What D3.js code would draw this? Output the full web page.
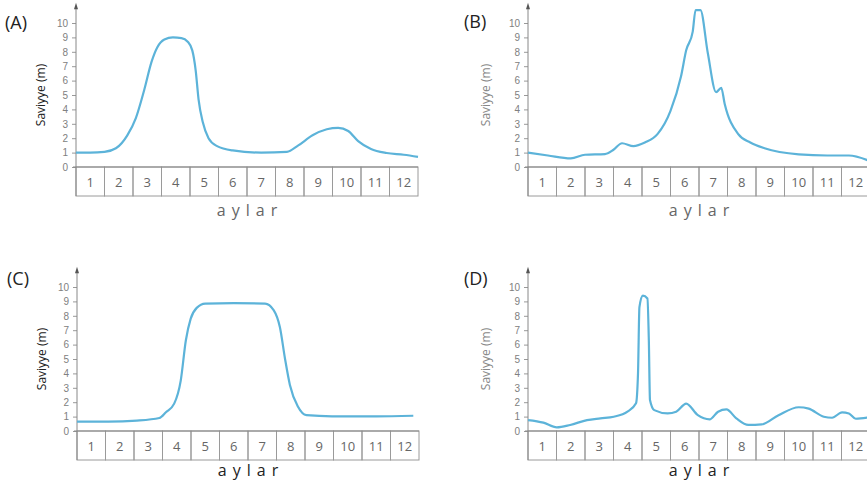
<!DOCTYPE html>
<html>
<head>
<meta charset="utf-8">
<script src="https://cdn.jsdelivr.net/npm/d3@7.9.0/dist/d3.min.js"></script>
<style>
  body { margin: 0; background: #fff; }
  svg { display: block; font-family: "Open Sans", sans-serif; }
</style>
</head>
<body>
<svg id="chart" width="867" height="483"></svg>
<script>
// months along the bottom and the level ticks
const months = [1, 2, 3, 4, 5, 6, 7, 8, 9, 10, 11, 12];
const levelTicks = [0, 1, 2, 3, 4, 5, 6, 7, 8, 9, 10];

// water level (m) against month position
const seriesA = [[0.5,1.0],[1.0,1.0],[1.5,1.05],[1.9,1.3],[2.3,2.2],[2.6,3.4],[2.9,5.4],[3.15,7.3],[3.35,8.3],[3.6,8.85],[3.9,9.0],[4.2,8.95],[4.42,8.7],[4.58,8.1],[4.7,6.7],[4.8,4.7],[4.95,3.1],[5.15,2.0],[5.45,1.45],[6.0,1.15],[7.0,1.0],[7.9,1.05],[8.3,1.5],[8.8,2.2],[9.3,2.62],[9.7,2.72],[10.05,2.5],[10.4,1.8],[10.85,1.25],[11.4,0.97],[12.0,0.85],[12.5,0.7]];
const seriesB = [[0.5,1.0],[1.2,0.8],[2.0,0.6],[2.5,0.85],[3.2,0.9],[3.5,1.2],[3.8,1.65],[4.2,1.45],[4.6,1.7],[5.05,2.3],[5.5,3.9],[5.87,6.3],[6.05,8.1],[6.28,9.4],[6.38,10.9],[6.55,10.9],[6.81,7.9],[7.1,5.2],[7.28,5.5],[7.4,4.4],[7.87,2.3],[8.3,1.7],[8.8,1.3],[10.0,0.88],[11.0,0.8],[11.76,0.8],[12.5,0.4]];
const seriesC = [[0.5,0.65],[1.6,0.65],[2.6,0.72],[3.39,0.9],[3.62,1.3],[3.91,1.9],[4.14,3.5],[4.32,6.3],[4.49,7.8],[4.7,8.55],[5.0,8.85],[6.0,8.88],[7.1,8.85],[7.4,8.4],[7.62,7.2],[7.8,5.0],[7.97,3.2],[8.25,1.7],[8.55,1.1],[9.45,1.02],[11.0,1.02],[12.3,1.06]];
const seriesD = [[0.5,0.76],[1.04,0.58],[1.51,0.25],[1.98,0.42],[2.57,0.76],[3.04,0.88],[3.51,0.99],[3.99,1.34],[4.29,1.92],[4.36,4.0],[4.41,8.6],[4.53,9.4],[4.69,9.2],[4.74,6.3],[4.78,2.15],[4.93,1.45],[5.4,1.22],[5.7,1.34],[6.05,1.9],[6.46,1.1],[6.87,0.81],[7.17,1.34],[7.46,1.5],[7.81,0.88],[8.23,0.42],[8.7,0.46],[9.29,1.1],[10.0,1.65],[10.35,1.55],[10.88,0.99],[11.17,0.92],[11.52,1.3],[11.76,1.22],[12.0,0.85],[12.47,0.95]];

const svg = d3.select("#chart");

const panels = [
  { tag: "(A)", data: seriesA, ox: 76, oy: 167, lx: 5,   ly: 29,  dim: false, ay: 20 },
  { tag: "(B)", data: seriesB, ox: 528, oy: 167, lx: 464, ly: 28,  dim: true,  ay: 20 },
  { tag: "(C)", data: seriesC, ox: 77, oy: 431, lx: 7,   ly: 285, dim: false, ay: 16 },
  { tag: "(D)", data: seriesD, ox: 528, oy: 431, lx: 464, ly: 285, dim: true,  ay: 16 }
];

const boxW = 28.5, boxH = 29;

panels.forEach(p => {
  const g = svg.append("g").attr("transform", `translate(${p.ox},${p.oy})`);

  const x = d3.scaleLinear().domain([0.5, 12.5]).range([0, boxW * 12]);
  const y = d3.scaleLinear().domain([0, 10]).range([0, -144]);

  // month boxes
  const boxes = g.append("g");
  months.forEach(m => {
    boxes.append("rect")
      .attr("x", x(m - 0.5))
      .attr("y", 0)
      .attr("width", boxW)
      .attr("height", boxH)
      .attr("fill", "none")
      .attr("stroke", "#9a9a9a")
      .attr("stroke-width", 1);
    boxes.append("text")
      .attr("x", x(m))
      .attr("y", 20)
      .attr("text-anchor", "middle")
      .attr("fill", "#666")
      .style("font-size", "13px")
      .text(m);
  });

  // level axis with an arrow on top
  const ax = g.append("g")
    .call(d3.axisLeft(y).tickValues(levelTicks).tickSize(4).tickPadding(4));
  ax.select(".domain").remove();
  ax.selectAll("line").attr("stroke", "#999");
  ax.selectAll("text").attr("fill", "#808080").style("font-size", "10px");

  g.append("line")
    .attr("x1", 0).attr("x2", 0)
    .attr("y1", boxH).attr("y2", y(11.1))
    .attr("stroke", "#888").attr("stroke-width", 1);
  g.append("path")
    .attr("d", `M-2,${y(10.95)} L0,${y(11.4)} L2,${y(10.95)} Z`)
    .attr("fill", "#555");
  g.append("line")
    .attr("x1", -3).attr("x2", x(12.5))
    .attr("y1", 0).attr("y2", 0)
    .attr("stroke", "#888").attr("stroke-width", 1);

  // the level curve
  const line = d3.line()
    .x(d => x(d[0]))
    .y(d => y(d[1]))
    .curve(d3.curveMonotoneX);

  g.append("path")
    .datum(p.data)
    .attr("fill", "none")
    .attr("stroke", "#5cb3d9")
    .attr("stroke-width", 2.2)
    .attr("stroke-linejoin", "round")
    .attr("d", line);

  // labels
  g.append("text")
    .attr("transform", `translate(${p.dim ? -38 : -31},${y(5)}) rotate(-90)`)
    .attr("text-anchor", "middle")
    .attr("fill", p.dim ? "#888" : "#222")
    .style("font-size", "12px")
    .text("Saviyye (m)");

  g.append("text")
    .attr("x", x(6.5) + 3)
    .attr("y", boxH + p.ay)
    .attr("text-anchor", "middle")
    .attr("fill", p.oy > 300 ? "#222" : "#666")
    .style("font-size", "16px")
    .style("letter-spacing", "6px")
    .text("aylar");

  svg.append("text")
    .attr("x", p.lx)
    .attr("y", p.ly)
    .attr("fill", "#222")
    .style("font-size", "18px")
    .text(p.tag);
});
</script>
</body>
</html>
